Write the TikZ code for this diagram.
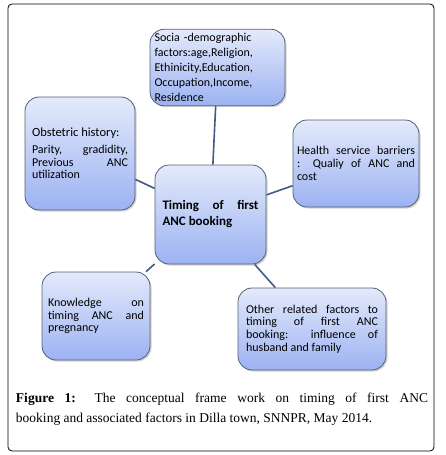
\documentclass[tikz,border=0pt]{standalone}
\usepackage{fontspec}
\setmainfont{Liberation Serif}
\setsansfont{Carlito}
\usetikzlibrary{shadows}
\definecolor{boxtop}{RGB}{228,234,251}
\definecolor{boxbot}{RGB}{156,178,242}
\definecolor{boxedge}{RGB}{85,95,115}
\definecolor{linkblue}{RGB}{62,92,132}
\tikzset{
  factor/.style={rectangle, draw=boxedge, line width=0.8pt, rounded corners=14pt,
                 top color=boxtop, bottom color=boxbot,
                 drop shadow={opacity=0.35, shadow xshift=1.5pt, shadow yshift=-1.5pt},
                 inner sep=4pt, align=justify,
                 font=\sffamily\fontsize{12}{12.7}\selectfont},
  link/.style={draw=linkblue, line width=1.6pt},
}

\begin{document}
\hyphenpenalty=10000
\exhyphenpenalty=10000
\begin{tikzpicture}[
  x=1pt, y=-1pt,
  caption/.style={text width=412pt, align=justify, inner sep=0pt,
                  font=\fontsize{13.5}{20}\selectfont}
]
  \useasboundingbox (0,0) rectangle (445,455);
  \draw[rounded corners=4pt, line width=0.8pt] (8,4) rectangle (434,451);

  \node[factor, minimum width=135pt, minimum height=75pt, text width=126pt,
        align=left, font=\sffamily\fontsize{12}{15}\selectfont] (socio) at (217.5,67.5)
    {Socia -demographic\\ factors:age,Religion,\\ Ethinicity,Education,\\ Occupation,Income,\\ Residence};
  \node[factor, minimum width=110pt, minimum height=113pt, text width=96pt] (obst) at (80,153.5)
    {\mbox{\fontsize{12.5}{16}\selectfont Obstetric history:}\par\vspace{4pt}
     Parity, gradidity,\linebreak Previous ANC\linebreak utilization};
  \node[factor, minimum width=122pt, minimum height=87pt, text width=118pt] (health) at (356,163.5)
    {Health service barriers\linebreak : Qualiy of ANC and\linebreak cost};
  \node[factor, minimum width=111pt, minimum height=99pt, text width=96pt,
        font=\sffamily\bfseries\fontsize{13}{16}\selectfont] (core) at (210.5,214.5)
    {Timing of first\linebreak ANC booking};
  \node[factor, minimum width=108pt, minimum height=88pt, text width=96pt] (know) at (96,316)
    {Knowledge on\linebreak timing ANC and\linebreak pregnancy};
  \node[factor, minimum width=148pt, minimum height=82pt, text width=132pt] (other) at (312,329)
    {Other related factors to\linebreak timing of first ANC\linebreak booking: influence of\linebreak husband and family};

  \draw[link] (socio) -- (core);
  \draw[link] (obst) -- (core);
  \draw[link] (health) -- (core);
  \draw[link] (know) -- (core);
  \draw[link] (other) -- (core);

  \node[caption] (cap) at (222,409)
    {\textbf{Figure 1:} The conceptual frame work on timing of first ANC\linebreak
     booking and associated factors in Dilla town, SNNPR, May 2014.};
\end{tikzpicture}
\end{document}
